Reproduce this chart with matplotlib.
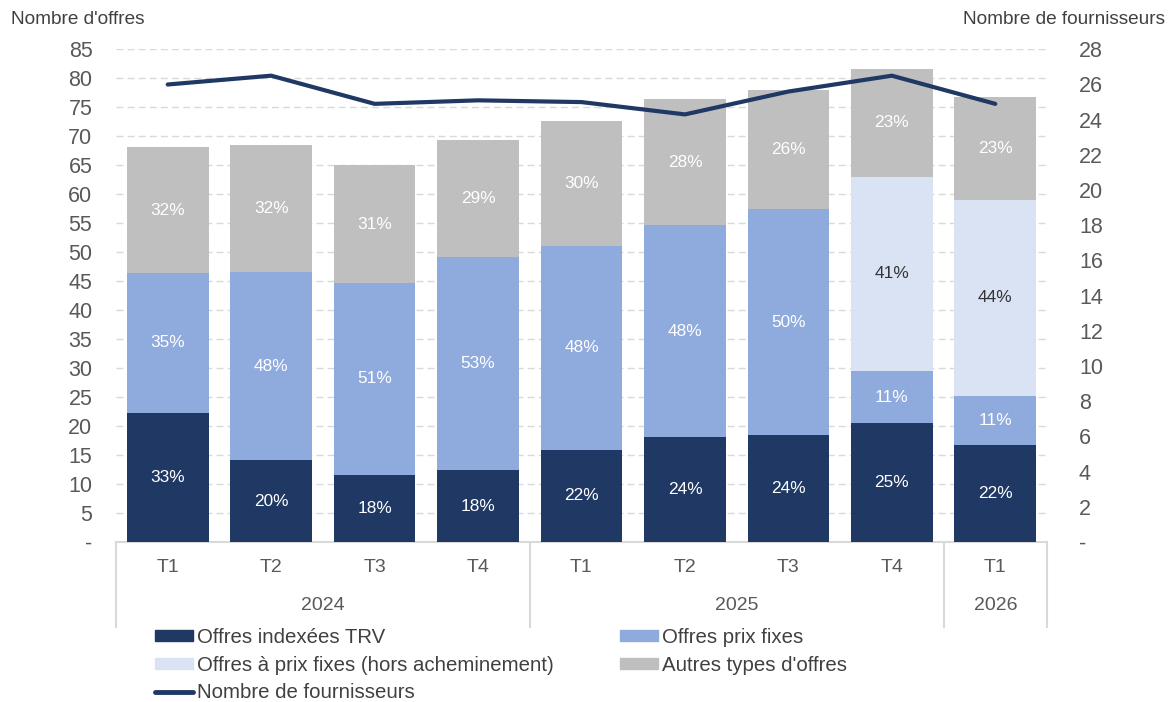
import matplotlib
matplotlib.use('Agg')
import matplotlib.pyplot as plt
from matplotlib.patches import Patch
from matplotlib.lines import Line2D
import matplotlib.transforms as mtransforms
import numpy as np

plt.rcParams['font.family'] = ['Liberation Sans', 'DejaVu Sans']

quarters = ['T1', 'T2', 'T3', 'T4', 'T1', 'T2', 'T3', 'T4', 'T1']
years = ['2024', '2025', '2026']
year_first = [0, 4, 8]
year_last = [3, 7, 8]
trv = [22.3, 14.1, 11.6, 12.4, 15.9, 18.1, 18.5, 20.5, 16.7]
fixes = [24.1, 32.5, 33.1, 36.8, 35.2, 36.6, 38.9, 9.0, 8.5]
hors = [0, 0, 0, 0, 0, 0, 0, 33.5, 33.8]
autres = [21.7, 21.9, 20.3, 20.1, 21.5, 21.7, 20.6, 18.6, 17.8]
fournisseurs = [26.0, 26.5, 24.9, 25.1, 25.0, 24.3, 25.6, 26.5, 24.9]
pct_trv = ['33%', '20%', '18%', '18%', '22%', '24%', '24%', '25%', '22%']
pct_fixes = ['35%', '48%', '51%', '53%', '48%', '48%', '50%', '11%', '11%']
pct_hors = ['', '', '', '', '', '', '', '41%', '44%']
pct_autres = ['32%', '32%', '31%', '29%', '30%', '28%', '26%', '23%', '23%']

c_trv = '#203864'
c_fix = '#8FAADC'
c_hors = '#DAE3F3'
c_aut = '#BFBFBF'
c_line = '#203864'
c_txt = '#595959'

W, H = 1176, 702
fig = plt.figure(figsize=(W / 100, H / 100), dpi=100)
ax = fig.add_axes([116 / W, 1 - 542 / H, (1047 - 116) / W, (542 - 49.3) / H])

x = np.arange(len(quarters))
bw = 0.79
series = [(trv, c_trv, pct_trv, 'white'),
          (fixes, c_fix, pct_fixes, 'white'),
          (hors, c_hors, pct_hors, '#333333'),
          (autres, c_aut, pct_autres, 'white')]
bottom = np.zeros(len(x))
for vals, col, labs, tcol in series:
    vals = np.array(vals, dtype=float)
    ax.bar(x, vals, bw, bottom=bottom, color=col, edgecolor='none', zorder=2)
    for i, (v, lab) in enumerate(zip(vals, labs)):
        if v > 0 and lab:
            ax.text(x[i], bottom[i] + v / 2, lab, ha='center', va='center',
                    fontsize=12.4, color=tcol, zorder=3)
    bottom += vals

ax.set_xlim(-0.5, len(x) - 0.5)
ax.set_ylim(0, 85)
yt = np.arange(0, 86, 5)
ax.set_yticks(yt)
ax.set_yticklabels(['-' if v == 0 else str(v) for v in yt])
ax.tick_params(axis='y', length=0, pad=17, labelsize=15.5, labelcolor=c_txt)
ax.set_xticks([])
ax.yaxis.grid(True, color='#D9D9D9', linestyle=(0, (5, 3)), linewidth=1)
ax.set_axisbelow(True)
for s in ax.spines.values():
    s.set_visible(False)

ax2 = ax.twinx()
ax2.plot(x, fournisseurs, color=c_line, lw=3, solid_capstyle='round', zorder=5)
ax2.set_ylim(0, 28)
yt2 = np.arange(0, 29, 2)
ax2.set_yticks(yt2)
ax2.set_yticklabels(['-' if v == 0 else str(v) for v in yt2])
ax2.tick_params(axis='y', length=0, pad=23, labelsize=15.5, labelcolor=c_txt)
for s in ax2.spines.values():
    s.set_visible(False)

# category axis box
trans = mtransforms.blended_transform_factory(ax.transData, ax.transAxes)
lc = '#D9D9D9'
ax.add_line(Line2D([-0.5, len(x) - 0.5], [0, 0], transform=trans, color=lc,
                   lw=1.5, clip_on=False, zorder=1))
for sx in [-0.5] + [l + 0.5 for l in year_last]:
    ax.add_line(Line2D([sx, sx], [0, -0.1725], transform=trans, color=lc,
                       lw=1.5, clip_on=False))
for i, q in enumerate(quarters):
    ax.text(x[i], -0.051, q, transform=trans, ha='center', va='center',
            fontsize=14, color=c_txt)
for yl, f, l in zip(years, year_first, year_last):
    ax.text((f + l) / 2, -0.128, yl, transform=trans, ha='center', va='center',
            fontsize=14, color=c_txt)

fig.text(11 / W, 1 - 20 / H, "Nombre d'offres", ha='left', va='center',
         fontsize=13.7, color='#404040')
fig.text(1165 / W, 1 - 20 / H, "Nombre de fournisseurs", ha='right', va='center',
         fontsize=13.7, color='#404040')

handles = [Patch(color=c_trv), Patch(color=c_hors),
           Line2D([], [], color=c_line, lw=3.5, solid_capstyle='round'),
           Patch(color=c_fix), Patch(color=c_aut)]
labels = ['Offres indexées TRV', 'Offres à prix fixes (hors acheminement)',
          'Nombre de fournisseurs', 'Offres prix fixes', "Autres types d'offres"]
fig.legend(handles, labels, ncol=2, loc='upper left',
           bbox_to_anchor=(155 / W, 1 - 628 / H), frameon=False,
           borderpad=0, borderaxespad=0, fontsize=14.7, handlelength=1.86,
           handleheight=0.45, handletextpad=0.2, labelspacing=0.42,
           columnspacing=3.25, labelcolor='#404040')

fig.savefig('out.png', dpi=100)
